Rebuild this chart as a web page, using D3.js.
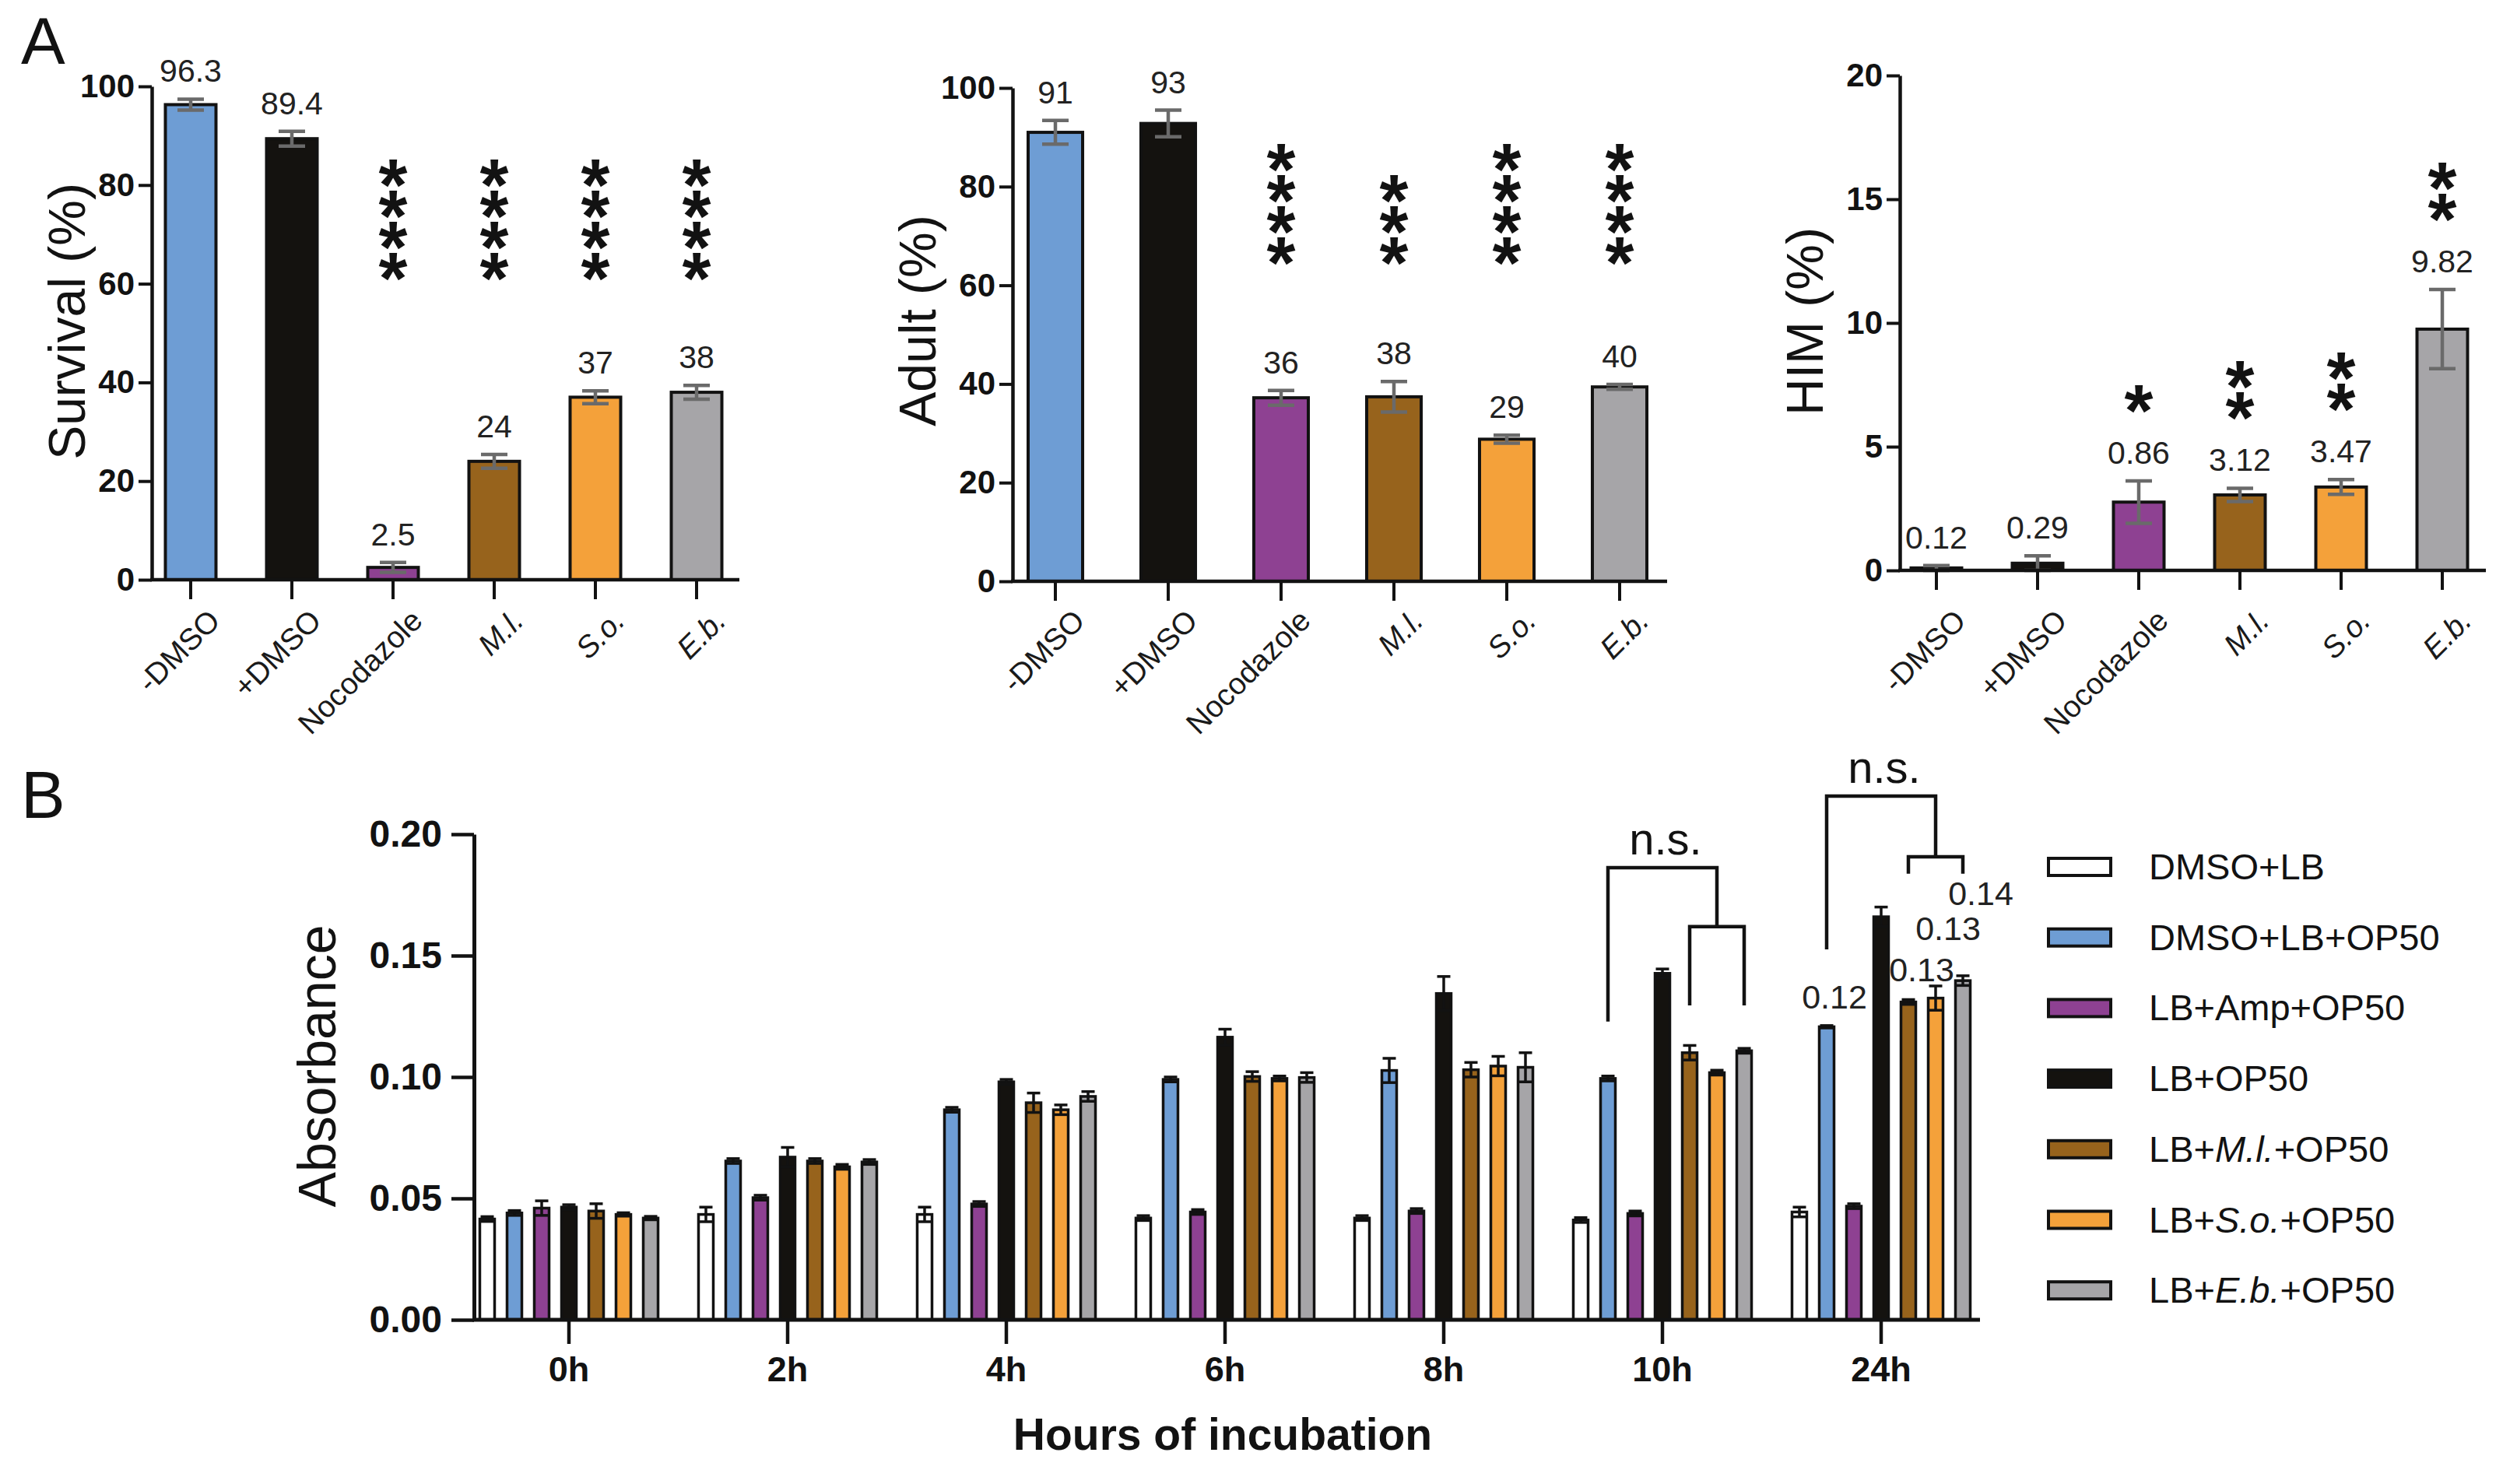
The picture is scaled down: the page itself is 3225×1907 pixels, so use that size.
<!DOCTYPE html>
<html>
<head>
<meta charset="utf-8">
<script src="https://cdn.jsdelivr.net/npm/d3@7"></script>
<style>
html, body { margin: 0; padding: 0; background: #fff; }
svg { display: block; font-family: "Liberation Sans", Arial, Helvetica, sans-serif; }
</style>
</head>
<body>
<svg id="fig" width="3225" height="1907"></svg>
<script>
'use strict';
// ---- panel A: worm assays
const groups = ['-DMSO', '+DMSO', 'Nocodazole', 'M.l.', 'S.o.', 'E.b.'];
const italicTokens = ['M.l.', 'S.o.', 'E.b.'];
const groupColors = ['#6e9dd4', '#14120f', '#8e4192', '#97631c', '#f4a13a', '#a6a5a8'];

const survivalValues = [96.3, 89.4, 2.5, 24, 37, 38];
const survivalErrors = [1.1, 1.5, 1.0, 1.4, 1.3, 1.4];
const survivalLabels = ['96.3', '89.4', '2.5', '24', '37', '38'];
const survivalStars = [0, 0, 4, 4, 4, 4];
const survivalTicks = [0, 20, 40, 60, 80, 100];

const adultValues = [91, 92.8, 37.2, 37.4, 28.8, 39.4];
const adultErrors = [2.4, 2.7, 1.5, 3.1, 0.8, 0.5];
const adultLabels = ['91', '93', '36', '38', '29', '40'];
const adultStars = [0, 0, 4, 3, 4, 4];
const adultTicks = [0, 20, 40, 60, 80, 100];

const himValues = [0.1, 0.29, 2.76, 3.05, 3.37, 9.75];
const himErrors = [0.1, 0.3, 0.86, 0.27, 0.3, 1.6];
const himLabels = ['0.12', '0.29', '0.86', '3.12', '3.47', '9.82'];
const himStars = [0, 0, 1, 2, 2, 2];
const himTicks = [0, 5, 10, 15, 20];

// ---- panel B: bacterial growth
const hours = ['0h', '2h', '4h', '6h', '8h', '10h', '24h'];
const treatments = ['DMSO+LB', 'DMSO+LB+OP50', 'LB+Amp+OP50', 'LB+OP50', 'LB+M.l.+OP50', 'LB+S.o.+OP50', 'LB+E.b.+OP50'];
const treatmentColors = ['#ffffff', '#6e9dd4', '#8e4192', '#14120f', '#97631c', '#f4a13a', '#a6a5a8'];

const dmsoLb = [0.0415, 0.0434, 0.0434, 0.0419, 0.0419, 0.0411, 0.0444];
const dmsoLbOp50 = [0.0440, 0.0654, 0.0865, 0.0990, 0.1027, 0.0994, 0.1207];
const lbAmpOp50 = [0.0460, 0.0503, 0.0477, 0.0444, 0.0448, 0.0438, 0.0468];
const lbOp50 = [0.0464, 0.0670, 0.0980, 0.1164, 0.1344, 0.1427, 0.1660];
const lbMlOp50 = [0.0448, 0.0654, 0.0894, 0.1002, 0.1030, 0.1100, 0.1309];
const lbSoOp50 = [0.0434, 0.0630, 0.0865, 0.0994, 0.1045, 0.1018, 0.1325];
const lbEbOp50 = [0.0419, 0.0650, 0.0920, 0.0998, 0.1040, 0.1108, 0.1397];

const dmsoLbErr = [0.001, 0.003, 0.003, 0.001, 0.001, 0.001, 0.002];
const dmsoLbOp50Err = [0.001, 0.001, 0.001, 0.001, 0.005, 0.001, 0.0005];
const lbAmpOp50Err = [0.003, 0.001, 0.001, 0.001, 0.001, 0.001, 0.001];
const lbOp50Err = [0.001, 0.004, 0.001, 0.0033, 0.007, 0.0018, 0.004];
const lbMlOp50Err = [0.003, 0.001, 0.004, 0.002, 0.003, 0.003, 0.001];
const lbSoOp50Err = [0.0007, 0.001, 0.002, 0.001, 0.004, 0.001, 0.005];
const lbEbOp50Err = [0.0007, 0.001, 0.002, 0.002, 0.006, 0.001, 0.002];

const absTicks = [0, 0.05, 0.10, 0.15, 0.20];
const lateLabels = ['0.12', '0.13', '0.13', '0.14'];

const absorbance = [dmsoLb, dmsoLbOp50, lbAmpOp50, lbOp50, lbMlOp50, lbSoOp50, lbEbOp50];
const absErrors = [dmsoLbErr, dmsoLbOp50Err, lbAmpOp50Err, lbOp50Err, lbMlOp50Err, lbSoOp50Err, lbEbOp50Err];

const svg = d3.select('#fig');
const INK = '#121212';

// writes a label, putting species abbreviations in italics
function richText(sel, str) {
  const tok = italicTokens.find(t => str.includes(t));
  if (!tok) { sel.text(str); return; }
  const i = str.indexOf(tok);
  [[str.slice(0, i), false], [tok, true], [str.slice(i + tok.length), false]]
    .filter(p => p[0])
    .forEach(p => sel.append('tspan').attr('font-style', p[1] ? 'italic' : null).text(p[0]));
}

function barPanel(p) {
  const x = d3.scaleBand().domain(groups).range(p.xRange)
    .paddingInner(p.pad[0]).paddingOuter(p.pad[1]);
  const y = d3.scaleLinear().domain([0, p.max]).range(p.yRange);
  const g = svg.append('g');
  const cx = i => x(groups[i]) + x.bandwidth() / 2;

  g.selectAll('rect.bar').data(p.values).join('rect')
    .attr('class', 'bar')
    .attr('x', (d, i) => x(groups[i]))
    .attr('width', x.bandwidth())
    .attr('y', d => y(d))
    .attr('height', d => y(0) - y(d))
    .attr('fill', (d, i) => groupColors[i])
    .attr('stroke', INK)
    .attr('stroke-width', 4);

  // error bars
  const eb = g.selectAll('g.err').data(p.values).join('g').attr('class', 'err')
    .attr('stroke', '#6a6a6a').attr('stroke-width', 4.5);
  eb.append('line')
    .attr('x1', (d, i) => cx(i)).attr('x2', (d, i) => cx(i))
    .attr('y1', (d, i) => y(Math.max(0, d - p.errors[i]))).attr('y2', (d, i) => y(d + p.errors[i]));
  [1, -1].forEach(s => {
    eb.append('line')
      .attr('x1', (d, i) => cx(i) - 17).attr('x2', (d, i) => cx(i) + 17)
      .attr('y1', (d, i) => y(Math.max(0, d + s * p.errors[i])))
      .attr('y2', (d, i) => y(Math.max(0, d + s * p.errors[i])));
  });

  // value labels
  const labelY = i => y(p.values[i] + p.errors[i]) - 22;
  g.selectAll('text.val').data(p.labels).join('text')
    .attr('class', 'val')
    .attr('x', (d, i) => cx(i))
    .attr('y', (d, i) => labelY(i))
    .attr('text-anchor', 'middle')
    .attr('font-size', 41)
    .attr('fill', '#222')
    .text(d => d);

  // significance stars: one run of asterisks per bar, laid out downwards
  // with each glyph turned back upright
  p.stars.forEach((n, i) => {
    if (!n) return;
    const base = p.starBase != null ? p.starBase : labelY(i) - 90;
    const top = base - (n - 1) * 40;
    g.append('text')
      .attr('transform', `translate(${cx(i) - 18.5},${top + 54}) rotate(90)`)
      .attr('x', d3.range(n).map(k => k * 40).join(' '))
      .attr('y', 0)
      .attr('rotate', -90)
      .attr('font-size', 95)
      .attr('font-weight', 'bold')
      .attr('fill', INK)
      .text('*'.repeat(n));
  });

  // y axis
  const ya = g.append('g')
    .attr('transform', `translate(${p.axisX},0)`)
    .call(d3.axisLeft(y).tickValues(p.ticks).tickSize(17).tickPadding(5).tickSizeOuter(0));
  ya.select('.domain').attr('stroke', INK).attr('stroke-width', 4.5);
  ya.selectAll('.tick line').attr('stroke', INK).attr('stroke-width', 4);
  ya.selectAll('.tick text')
    .attr('font-family', '"Liberation Sans", Arial, sans-serif')
    .attr('font-size', 42).attr('font-weight', 'bold').attr('fill', INK);

  // x axis
  const xa = g.append('g')
    .attr('transform', `translate(0,${y(0)})`)
    .call(d3.axisBottom(x).tickSize(25).tickSizeOuter(0));
  xa.select('.domain').remove();
  xa.selectAll('.tick text').remove();
  xa.selectAll('.tick line').attr('stroke', INK).attr('stroke-width', 4);
  g.append('line')
    .attr('x1', p.axisX - 2).attr('x2', p.axisEnd)
    .attr('y1', y(0)).attr('y2', y(0))
    .attr('stroke', INK).attr('stroke-width', 4.5);

  groups.forEach((name, i) => {
    const t = g.append('text')
      .attr('transform', `translate(${cx(i) + 40},800) rotate(-45)`)
      .attr('text-anchor', 'end')
      .attr('font-size', 39)
      .attr('fill', '#1a1a1a');
    richText(t, name);
  });

  // axis title
  g.append('text')
    .attr('transform', `translate(${p.titleX},${p.titleY}) rotate(-90)`)
    .attr('text-anchor', 'middle')
    .attr('font-size', 66)
    .attr('fill', INK)
    .text(p.title);
}

barPanel({
  values: survivalValues, errors: survivalErrors, labels: survivalLabels, stars: survivalStars,
  ticks: survivalTicks, max: 100, title: 'Survival (%)',
  xRange: [180, 960], pad: [0.5, 0.25], yRange: [745, 111],
  axisX: 195, axisEnd: 950, titleX: 109, titleY: 413, starBase: 336
});
barPanel({
  values: adultValues, errors: adultErrors, labels: adultLabels, stars: adultStars,
  ticks: adultTicks, max: 100, title: 'Adult (%)',
  xRange: [1283.5, 2153.5], pad: [0.517, 0.2586], yRange: [747, 113],
  axisX: 1301, axisEnd: 2142, titleX: 1202, titleY: 412, starBase: 316
});
barPanel({
  values: himValues, errors: himErrors, labels: himLabels, stars: himStars,
  ticks: himTicks, max: 20, title: 'HIM (%)',
  xRange: [2423, 3203], pad: [0.5, 0.25], yRange: [733, 97],
  axisX: 2441, axisEnd: 3194, titleX: 2342, titleY: 413, starBase: null
});

// ---- panel B
(function growthPanel() {
  const x0 = d3.scaleBand().domain(hours).range([590.5, 2557.5]).paddingInner(0.128).paddingOuter(0.064);
  const x1 = d3.scaleBand().domain(treatments).range([0, x0.bandwidth()]).paddingInner(0.457).paddingOuter(0.2286);
  const y = d3.scaleLinear().domain([0, 0.2]).range([1696, 1072]);
  const g = svg.append('g');
  const bx = (h, t) => x0(hours[h]) + x1(treatments[t]) + x1.bandwidth() / 2;

  const cells = [];
  hours.forEach((h, hi) => treatments.forEach((t, ti) => {
    cells.push({ hi, ti, v: absorbance[ti][hi], e: absErrors[ti][hi] });
  }));

  g.selectAll('rect.bar').data(cells).join('rect')
    .attr('x', d => bx(d.hi, d.ti) - x1.bandwidth() / 2)
    .attr('width', x1.bandwidth())
    .attr('y', d => y(d.v))
    .attr('height', d => y(0) - y(d.v))
    .attr('fill', d => treatmentColors[d.ti])
    .attr('stroke', INK)
    .attr('stroke-width', 3.5);

  const eb = g.selectAll('g.err').data(cells).join('g')
    .attr('stroke', INK).attr('stroke-width', 3.5);
  eb.append('line')
    .attr('x1', d => bx(d.hi, d.ti)).attr('x2', d => bx(d.hi, d.ti))
    .attr('y1', d => y(d.v - d.e)).attr('y2', d => y(d.v + d.e));
  [1, -1].forEach(s => {
    eb.append('line')
      .attr('x1', d => bx(d.hi, d.ti) - 8.5).attr('x2', d => bx(d.hi, d.ti) + 8.5)
      .attr('y1', d => y(d.v + s * d.e)).attr('y2', d => y(d.v + s * d.e));
  });

  // y axis
  const ya = g.append('g')
    .attr('transform', 'translate(609,0)')
    .call(d3.axisLeft(y).tickValues(absTicks).tickFormat(d3.format('.2f'))
      .tickSize(29).tickPadding(12).tickSizeOuter(0));
  ya.select('.domain').attr('stroke', INK).attr('stroke-width', 5);
  ya.selectAll('.tick line').attr('stroke', INK).attr('stroke-width', 4.5);
  ya.selectAll('.tick text')
    .attr('font-family', '"Liberation Sans", Arial, sans-serif')
    .attr('font-size', 48).attr('font-weight', 'bold').attr('fill', INK);

  // x axis
  const xa = g.append('g')
    .attr('transform', 'translate(0,1696)')
    .call(d3.axisBottom(x0).tickSize(31).tickPadding(48).tickSizeOuter(0));
  xa.select('.domain').remove();
  xa.selectAll('.tick line').attr('stroke', INK).attr('stroke-width', 4.5);
  xa.selectAll('.tick text')
    .attr('dy', 0)
    .attr('y', 79)
    .attr('font-family', '"Liberation Sans", Arial, sans-serif')
    .attr('font-size', 45).attr('font-weight', 'bold').attr('fill', INK);
  g.append('line')
    .attr('x1', 607).attr('x2', 2544).attr('y1', 1696).attr('y2', 1696)
    .attr('stroke', INK).attr('stroke-width', 5);

  g.append('text')
    .attr('x', 1571).attr('y', 1863)
    .attr('text-anchor', 'middle')
    .attr('font-size', 57).attr('font-weight', 'bold').attr('fill', INK)
    .text('Hours of incubation');
  g.append('text')
    .attr('transform', 'translate(431,1370) rotate(-90)')
    .attr('text-anchor', 'middle')
    .attr('font-size', 68).attr('fill', INK)
    .text('Absorbance');

  // n.s. brackets: left leg over one bar, right leg over a sub-bracket
  const brackets = [
    { h: 5, left: 1, from: 4, to: 6, top: 0.1862, leftEnd: 0.1228, sub: 0.1619, subEnd: 0.1295 },
    { h: 6, left: 1, from: 4, to: 6, top: 0.2157, leftEnd: 0.1526, sub: 0.1907, subEnd: 0.1837 }
  ];
  brackets.forEach(b => {
    const xl = bx(b.h, b.left), xa1 = bx(b.h, b.from), xa2 = bx(b.h, b.to);
    const xr = (xa1 + xa2) / 2;
    g.append('path')
      .attr('d', `M${xl},${y(b.leftEnd)}V${y(b.top)}H${xr}V${y(b.sub)}`)
      .attr('fill', 'none').attr('stroke', INK).attr('stroke-width', 4.5);
    g.append('path')
      .attr('d', `M${xa1},${y(b.subEnd)}V${y(b.sub)}H${xa2}V${y(b.subEnd)}`)
      .attr('fill', 'none').attr('stroke', INK).attr('stroke-width', 4.5);
    g.append('text')
      .attr('x', (xl + xr) / 2 + 4).attr('y', y(b.top) - 17)
      .attr('text-anchor', 'middle')
      .attr('font-size', 58).attr('fill', INK)
      .text('n.s.');
  });

  // 24h values, staggered above the bars
  const lateSeries = [1, 4, 5, 6];
  const lateOffsets = [[10, -22], [17, -23], [16, -59], [23, -91]];
  lateLabels.forEach((lab, k) => {
    const ti = lateSeries[k];
    g.append('text')
      .attr('x', bx(6, ti) + lateOffsets[k][0])
      .attr('y', y(absorbance[ti][6] + absErrors[ti][6]) + lateOffsets[k][1])
      .attr('text-anchor', 'middle')
      .attr('font-size', 43).attr('fill', '#222')
      .text(lab);
  });

  // legend
  const lg = g.append('g');
  treatments.forEach((t, i) => {
    const cy = 1114 + i * 90.7;
    lg.append('rect')
      .attr('x', 2632).attr('y', cy - 11).attr('width', 80).attr('height', 22)
      .attr('fill', treatmentColors[i]).attr('stroke', INK).attr('stroke-width', 4);
    const tx = lg.append('text')
      .attr('x', 2761).attr('y', cy + 16)
      .attr('font-size', 47).attr('fill', INK);
    richText(tx, t);
  });
})();

// panel letters
svg.append('text').attr('x', 27).attr('y', 82).attr('font-size', 85).attr('fill', INK).text('A');
svg.append('text').attr('x', 27).attr('y', 1051).attr('font-size', 85).attr('fill', INK).text('B');
</script>
</body>
</html>
